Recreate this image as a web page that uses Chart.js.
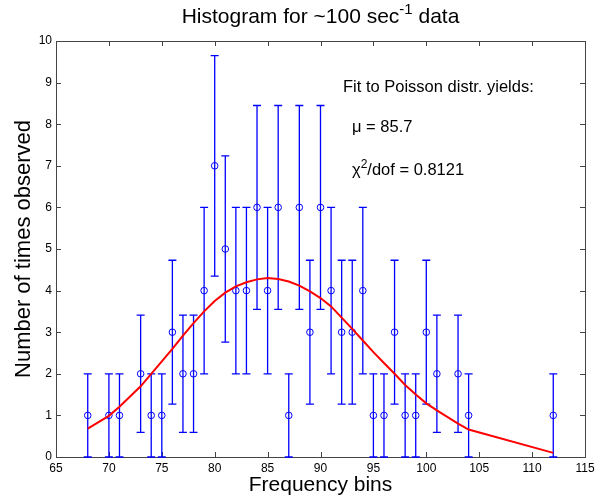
<!DOCTYPE html>
<html>
<head>
<meta charset="utf-8">
<script src="https://cdn.jsdelivr.net/npm/chart.js@4/dist/chart.umd.min.js"></script>
<style>
html,body{margin:0;padding:0;background:#fff;}
#wrap{width:605px;height:498px;position:relative;}
</style>
</head>
<body>
<div id="wrap"><canvas id="c" width="605" height="498"></canvas></div>
<script>
// ---- data ----
const bins = [68,70,71,73,74,75,76,77,78,79,80,81,82,83,84,85,86,87,88,89,90,91,92,93,94,95,96,97,98,99,100,101,103,104,112];
const counts = [1,1,1,2,1,1,3,2,2,4,7,5,4,4,6,4,6,1,6,3,6,4,3,3,4,1,1,3,1,1,3,2,2,1,1];
const errors = [1,1,1,1.41,1,1,1.73,1.41,1.41,2,2.65,2.24,2,2,2.45,2,2.45,1,2.45,1.73,2.45,2,1.73,1.73,2,1,1,1.73,1,1,1.73,1.41,1.41,1,1];
const fitValues = [0.68,0.99,1.21,1.7,2.0,2.3,2.6,2.92,3.22,3.5,3.75,3.95,4.1,4.2,4.27,4.3,4.28,4.22,4.12,3.98,3.82,3.62,3.35,3.08,2.8,2.52,2.26,2.0,1.73,1.5,1.29,1.12,0.8,0.66,0.1];
const xRange = [65, 115];
const yRange = [0, 10];
const xStep = 5;
const yStep = 1;
const titleParts = [["Histogram for ~100 sec", false], ["-1", true], [" data", false]];
const xLabel = "Frequency bins";
const yLabel = "Number of times observed";
const noteLines = [
  [["Fit to Poisson distr. yields:", false]],
  [["\u03bc = 85.7", false]],
  [["\u03c7", false], ["2", true], ["/dof = 0.8121", false]]
];

const FONT = '"Liberation Sans", Arial, Helvetica, sans-serif';

function drawRich(ctx, parts, x, y, size, align) {
  let w = 0;
  const items = parts.map(([t, sup]) => {
    const s = sup ? Math.round(size * 0.7) : size;
    ctx.font = s + 'px ' + FONT;
    const m = ctx.measureText(t).width;
    w += m;
    return {t, sup, s, m};
  });
  let cx = align === 'center' ? x - w / 2 : x;
  ctx.textAlign = 'left';
  ctx.textBaseline = 'alphabetic';
  ctx.fillStyle = '#000';
  items.forEach(it => {
    ctx.font = it.s + 'px ' + FONT;
    ctx.fillText(it.t, cx, it.sup ? y - size * 0.42 : y);
    cx += it.m;
  });
}

const framePlugin = {
  id: 'frame',
  beforeDatasetsDraw(chart) {
    const {ctx, chartArea: a, scales} = chart;
    const xs = scales.x, ys = scales.y;
    ctx.save();
    // axes box
    ctx.strokeStyle = '#444';
    ctx.lineWidth = 1;
    ctx.strokeRect(Math.round(a.left) + 0.5, Math.round(a.top) + 0.5, Math.round(a.right - a.left), Math.round(a.bottom - a.top));
    // inward tick marks on all four sides
    ctx.beginPath();
    xs.ticks.forEach(t => {
      const px = Math.round(xs.getPixelForValue(t.value)) + 0.5;
      ctx.moveTo(px, a.bottom); ctx.lineTo(px, a.bottom - 5);
      ctx.moveTo(px, a.top); ctx.lineTo(px, a.top + 5);
    });
    ys.ticks.forEach(t => {
      const py = Math.round(ys.getPixelForValue(t.value)) + 0.5;
      ctx.moveTo(a.left, py); ctx.lineTo(a.left + 5, py);
      ctx.moveTo(a.right, py); ctx.lineTo(a.right - 5, py);
    });
    ctx.stroke();
    // error bars
    ctx.strokeStyle = '#0000ff';
    ctx.lineWidth = 1.3;
    ctx.beginPath();
    bins.forEach((b, i) => {
      const px = xs.getPixelForValue(b);
      const y1 = ys.getPixelForValue(counts[i] - errors[i]);
      const y2 = ys.getPixelForValue(counts[i] + errors[i]);
      ctx.moveTo(px, y1); ctx.lineTo(px, y2);
      ctx.moveTo(px - 4, y1); ctx.lineTo(px + 4, y1);
      ctx.moveTo(px - 4, y2); ctx.lineTo(px + 4, y2);
    });
    ctx.stroke();
    ctx.restore();
  },
  afterDraw(chart) {
    const {ctx, chartArea: a} = chart;
    ctx.save();
    drawRich(ctx, titleParts, (a.left + a.right) / 2, 23, 21, 'center');
    drawRich(ctx, noteLines[0], 343, 91.5, 16.5, 'left');
    drawRich(ctx, noteLines[1], 352, 131.5, 16.5, 'left');
    drawRich(ctx, noteLines[2], 352, 175, 16.5, 'left');
    ctx.restore();
  }
};

new Chart(document.getElementById('c'), {
  type: 'scatter',
  data: {
    datasets: [
      {
        type: 'line',
        label: 'Poisson fit',
        data: bins.map((x, i) => ({x, y: fitValues[i]})),
        borderColor: '#ff0000',
        borderWidth: 2,
        pointRadius: 0,
        tension: 0,
        fill: false,
        order: 0
      },
      {
        type: 'scatter',
        label: 'Observed',
        data: bins.map((x, i) => ({x, y: counts[i]})),
        borderColor: '#0000ff',
        backgroundColor: 'rgba(0,0,0,0)',
        borderWidth: 1,
        pointRadius: 3.3,
        pointStyle: 'circle',
        showLine: false,
        order: 1
      }
    ]
  },
  options: {
    responsive: false,
    animation: false,
    devicePixelRatio: 1,
    layout: {padding: {left: 0, right: 20, top: 41, bottom: 0}},
    plugins: {legend: {display: false}, tooltip: {enabled: false}, title: {display: false}},
    scales: {
      x: {
        type: 'linear',
        min: xRange[0], max: xRange[1],
        ticks: {stepSize: xStep, color: '#000', font: {family: FONT, size: 12}, padding: 4, maxRotation: 0, autoSkip: false},
        grid: {display: false, drawTicks: false},
        border: {display: false},
        title: {display: true, text: xLabel, color: '#000', font: {family: FONT, size: 21}, padding: {top: 0, bottom: 0}},
        afterFit(s) { s.height = 41; }
      },
      y: {
        type: 'linear',
        min: yRange[0], max: yRange[1],
        ticks: {stepSize: yStep, color: '#000', font: {family: FONT, size: 12}, padding: 4},
        grid: {display: false, drawTicks: false},
        border: {display: false},
        title: {display: true, text: yLabel, color: '#000', font: {family: FONT, size: 22}, padding: {top: 11, bottom: 0}},
        afterFit(s) { s.width = 56; }
      }
    }
  },
  plugins: [framePlugin]
});
</script>
</body>
</html>
